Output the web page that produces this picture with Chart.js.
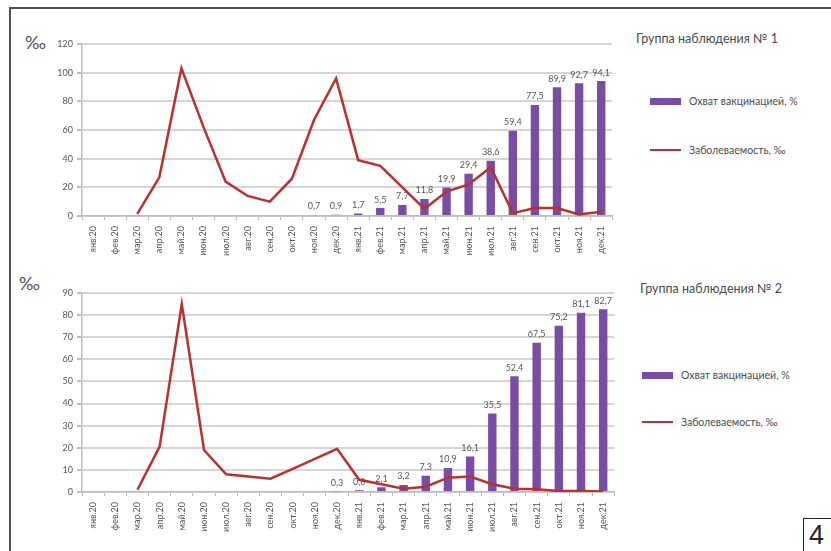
<!DOCTYPE html>
<html lang="ru">
<head>
<meta charset="utf-8">
<title>Охват вакцинацией и заболеваемость</title>
<script src="https://cdn.jsdelivr.net/npm/chart.js@4.4.1/dist/chart.umd.min.js"></script>
<style>
  html, body { margin: 0; padding: 0; background: #fff; }
  body { width: 831px; height: 551px; position: relative; overflow: hidden; font-family: Lato, "Open Sans", sans-serif; }
  .frame { position: absolute; left: 9px; top: 7px; width: 840px; height: 560px; border-top: 2px solid #505050; border-left: 2px solid #505050; }
  .panel { position: absolute; }
  .unit { position: absolute; font-size: 18px; color: #505050; letter-spacing: -1px; }
  .title { position: absolute; font-size: 12.5px; color: #4a4a4a; white-space: nowrap; }
  .leg { position: absolute; font-size: 10.5px; color: #4a4a4a; white-space: nowrap; display: flex; align-items: center; }
  .sw-bar { display: inline-block; width: 31px; height: 7px; background: #7a4ca3; margin-right: 8px; }
  .sw-line { display: inline-block; width: 31px; height: 2.5px; background: #b8312f; margin-right: 8px; }
  .fig { position: absolute; left: 803px; top: 518px; width: 40px; height: 40px; border-top: 1.5px solid #222; border-left: 1.5px solid #222; font-family: "Liberation Sans", sans-serif; font-size: 27px; color: #222; padding-left: 5px; line-height: 33px; }
</style>
</head>
<body>
<div class="frame"></div>

<div class="unit" style="left:25px; top:31px;">‰</div>
<div class="panel" style="left:42px; top:34px; width:576px; height:228px;"><canvas id="c1"></canvas></div>
<div class="title" style="left:636px; top:31px;">Группа наблюдения № 1</div>
<div class="leg" style="left:650px; top:95px;"><span class="sw-bar"></span><span>Охват вакцинацией, %</span></div>
<div class="leg" style="left:650px; top:144px;"><span class="sw-line"></span><span>Заболеваемость, ‰</span></div>

<div class="unit" style="left:19px; top:272px;">‰</div>
<div class="panel" style="left:42px; top:283px; width:578px; height:255px;"><canvas id="c2"></canvas></div>
<div class="title" style="left:640px; top:281px;">Группа наблюдения № 2</div>
<div class="leg" style="left:642px; top:369px;"><span class="sw-bar"></span><span>Охват вакцинацией, %</span></div>
<div class="leg" style="left:642px; top:416px;"><span class="sw-line"></span><span>Заболеваемость, ‰</span></div>

<div class="fig">4</div>

<script>
// Months, January 2020 – December 2021
const months = ['янв.20','фев.20','мар.20','апр.20','май.20','июн.20','июл.20','авг.20','сен.20','окт.20','ноя.20','дек.20',
                'янв.21','фев.21','мар.21','апр.21','май.21','июн.21','июл.21','авг.21','сен.21','окт.21','ноя.21','дек.21'];

// Group 1: vaccination coverage (%) and incidence (‰)
const coverage1 = [null,null,null,null,null,null,null,null,null,null,0.7,0.9,
                   1.7,5.5,7.7,11.8,19.9,29.4,38.6,59.4,77.5,89.9,92.7,94.1];
const incidence1 = [null,null,1.5,27,103,62,24,14,10,26,67,96,
                    39,35,20,5,17,22,34,2,5.5,5.5,1,3];

// Group 2: vaccination coverage (%) and incidence (‰)
const coverage2 = [null,null,null,null,null,null,null,null,null,null,null,0.3,
                   0.8,2.1,3.2,7.3,10.9,16.1,35.5,52.4,67.5,75.2,81.1,82.7];
const incidence2 = [null,null,1,20.5,85,19,8,7,6,10.5,15,19.5,
                    5.5,3.5,1.5,2.4,6.5,7,3.5,1.5,1.3,0.4,0.4,0.2];

const yTicks1 = { max: 120, step: 20 };
const yTicks2 = { max: 90, step: 10 };

const BAR_COLOR = '#7a4ca3';
const LINE_COLOR = '#b8312f';
const GRID_COLOR = '#d6d6d6';
const TEXT_COLOR = '#555';

// Value labels above the coverage bars, decimal comma
const barValueLabels = {
  id: 'barValueLabels',
  afterDatasetsDraw(chart) {
    const ctx = chart.ctx;
    chart.data.datasets.forEach((ds, i) => {
      if (ds.type !== 'bar') return;
      const meta = chart.getDatasetMeta(i);
      meta.data.forEach((el, j) => {
        const v = ds.data[j];
        if (v === null || v === undefined) return;
        ctx.save();
        ctx.font = '9px Lato, "Open Sans", sans-serif';
        ctx.fillStyle = '#555';
        ctx.textAlign = 'center';
        ctx.textBaseline = 'bottom';
        ctx.fillText(v.toFixed(1).replace('.', ','), el.x, el.y - 4);
        ctx.restore();
      });
    });
  }
};

function makeChart(id, coverage, incidence, yt) {
  return new Chart(document.getElementById(id), {
    data: {
      labels: months,
      datasets: [
        {
          type: 'line',
          label: 'Заболеваемость, ‰',
          data: incidence,
          borderColor: LINE_COLOR,
          borderWidth: 2.5,
          pointRadius: 0,
          tension: 0,
          spanGaps: false,
          order: 0
        },
        {
          type: 'bar',
          label: 'Охват вакцинацией, %',
          data: coverage,
          backgroundColor: BAR_COLOR,
          categoryPercentage: 1,
          barPercentage: 0.38,
          order: 1
        }
      ]
    },
    options: {
      responsive: true,
      maintainAspectRatio: false,
      animation: false,
      layout: { padding: { top: 10, right: 0, bottom: 0, left: 0 } },
      plugins: { legend: { display: false }, tooltip: { enabled: false } },
      scales: {
        x: {
          offset: true,
          grid: { display: true, drawOnChartArea: false, offset: true, tickLength: 4, color: '#b8b8b8', lineWidth: 1 },
          border: { display: true, color: '#bcbcbc', width: 1.5 },
          ticks: {
            autoSkip: false, maxRotation: 90, minRotation: 90, padding: 6,
            color: TEXT_COLOR, font: { family: 'Lato, "Open Sans", sans-serif', size: 9 }
          },
          afterFit(scale) { scale.height = 46; }
        },
        y: {
          min: 0, max: yt.max,
          grid: { color: GRID_COLOR, lineWidth: 2, tickLength: 5, tickColor: '#bcbcbc' },
          border: { display: true, color: '#bcbcbc', width: 1.5 },
          ticks: {
            stepSize: yt.step, padding: 4, color: TEXT_COLOR,
            font: { family: 'Lato, "Open Sans", sans-serif', size: 9 }
          },
          afterFit(scale) { scale.width = 40; }
        }
      }
    },
    plugins: [barValueLabels]
  });
}

makeChart('c1', coverage1, incidence1, yTicks1);
makeChart('c2', coverage2, incidence2, yTicks2);
</script>
</body>
</html>
